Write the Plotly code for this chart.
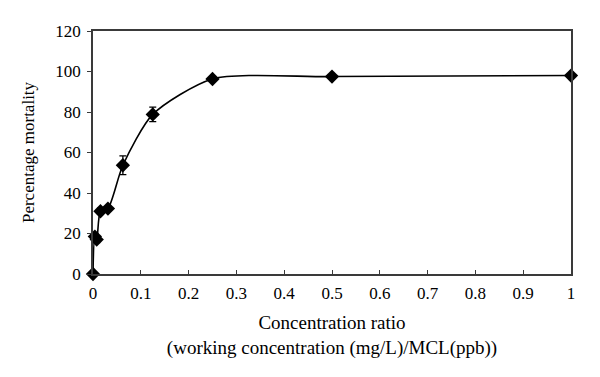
import plotly.graph_objects as go

conc_ratio = [0, 0.0039, 0.0078, 0.0156, 0.03125, 0.0625, 0.125, 0.25, 0.5, 1.0]
mortality = [0, 18.5, 17, 31, 32.3, 53.7, 78.8, 96.3, 97.5, 98.0]
mortality_err = [0, 1.5, 1.5, 1.5, 1.0, 4.6, 3.6, 1.0, 0.5, 0.3]

x_ticks = [0, 0.1, 0.2, 0.3, 0.4, 0.5, 0.6, 0.7, 0.8, 0.9, 1]
x_tick_labels = ["0", "0.1", "0.2", "0.3", "0.4", "0.5", "0.6", "0.7", "0.8", "0.9", "1"]
y_ticks = [0, 20, 40, 60, 80, 100, 120]

font_family = "Liberation Serif"
axis_col = "#3a3a3a"

fig = go.Figure()
fig.add_trace(go.Scatter(
    x=conc_ratio, y=mortality,
    mode="lines+markers",
    line=dict(color="black", width=1.6, shape="spline", smoothing=0.7),
    marker=dict(symbol="diamond", size=11, color="black"),
    error_y=dict(type="data", array=mortality_err, visible=True,
                 color="black", thickness=1.3, width=3.5),
    cliponaxis=False,
    showlegend=False,
))

# page body has an 8px default margin, so the figure is 592x369 and offset
fig.update_layout(
    width=592, height=369,
    margin=dict(l=85, r=29, t=23, b=103),
    paper_bgcolor="white", plot_bgcolor="white",
    font=dict(family=font_family, size=17, color="black"),
)
fig.update_xaxes(
    range=[0, 1], tickvals=x_ticks, ticktext=x_tick_labels,
    automargin=False,
    showgrid=False, zeroline=False,
    showline=True, linecolor=axis_col, linewidth=1.5, mirror=True,
    ticks="inside", ticklen=4, tickcolor=axis_col, tickwidth=1.2,
    tickfont=dict(size=17), ticklabelstandoff=3,
    title=dict(text="Concentration ratio<br>(working concentration (mg/L)/MCL(ppb))",
               font=dict(size=19), standoff=14),
)
fig.update_yaxes(
    range=[0, 120], tickvals=y_ticks,
    automargin=False,
    showgrid=False, zeroline=False,
    showline=True, linecolor=axis_col, linewidth=1.5, mirror=True,
    ticks="outside", ticklen=4, tickcolor=axis_col, tickwidth=1.2,
    tickfont=dict(size=17), ticklabelstandoff=3,
    title=dict(text="Percentage mortality", font=dict(size=17), standoff=16),
)

fig.write_html("out.html")
